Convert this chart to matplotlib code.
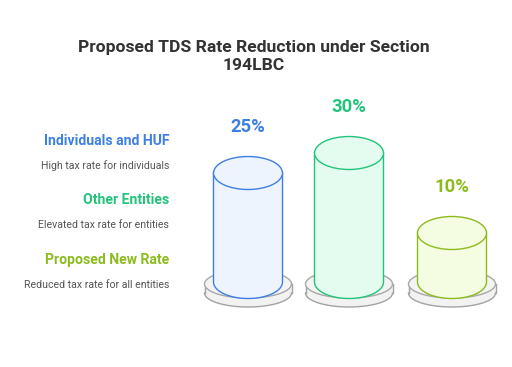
import matplotlib.pyplot as plt
import numpy as np
from matplotlib.patches import Ellipse, Polygon

plt.rcParams['font.family'] = ['Roboto', 'DejaVu Sans']

title = "Proposed TDS Rate Reduction under Section\n194LBC"
categories = ["Individuals and HUF", "Other Entities", "Proposed New Rate"]
descriptions = ["High tax rate for individuals", "Elevated tax rate for entities",
                "Reduced tax rate for all entities"]
rates = [25, 30, 10]
rate_labels = ["25%", "30%", "10%"]

line_colors = ["#3d7fe3", "#22c47a", "#8dbb1e"]
fill_colors = ["#eef4fe", "#e3fcef", "#f4fde1"]

fig = plt.figure(figsize=(5.12, 3.67), dpi=100)
ax = fig.add_axes([0, 0, 1, 1])
ax.set_xlim(0, 512)
ax.set_ylim(367, 0)
ax.axis("off")

# layout in pixel units
x_centers = [248, 349, 452]
base_y = 282          # centre of cylinder bottom ellipse
rx, ry = 34.5, 16.5   # cylinder ellipse radii
px_per_pct, min_h = 4.0, 9.0
disc_rx, disc_ry, disc_y, disc_t = 43.5, 14, 284, 9


def half_arc(cx, cy, a, b, n=60):
    t = np.linspace(np.pi, 0, n)
    return np.column_stack([cx + a * np.cos(t), cy + b * np.sin(t)])


for i, (cx, v) in enumerate(zip(x_centers, rates)):
    # gray base disc (two layers)
    lower = half_arc(cx, disc_y + disc_t, disc_rx, disc_ry)
    body = np.vstack([[[cx - disc_rx, disc_y]], lower, [[cx + disc_rx, disc_y]]])
    ax.add_patch(Polygon(body, closed=True, fc="#f2f2f2", ec="none", zorder=1))
    ax.plot(lower[:, 0], lower[:, 1], color="#a3a3a3", lw=1.0, zorder=2)
    for sx in (cx - disc_rx, cx + disc_rx):
        ax.plot([sx, sx], [disc_y, disc_y + disc_t], color="#a3a3a3", lw=1.0, zorder=2)
    ax.add_patch(Ellipse((cx, disc_y), 2 * disc_rx, 2 * disc_ry, fc="#f4f4f4",
                         ec="#a8a8a8", lw=1.0, zorder=2))

    # cylinder
    top_y = base_y - (min_h + px_per_pct * v)
    bottom = half_arc(cx, base_y, rx, ry)
    body = np.vstack([[[cx - rx, top_y]], bottom, [[cx + rx, top_y]]])
    ax.add_patch(Polygon(body, closed=True, fc=fill_colors[i], ec="none", zorder=3))
    ax.plot(np.r_[cx - rx, bottom[:, 0], cx + rx], np.r_[top_y, bottom[:, 1], top_y],
            color=line_colors[i], lw=1.0, zorder=4)
    ax.add_patch(Ellipse((cx, top_y), 2 * rx, 2 * ry, fc=fill_colors[i],
                         ec=line_colors[i], lw=1.0, zorder=5))
    ax.text(cx, top_y - ry - 30, rate_labels[i], color=line_colors[i], fontsize=13.2,
            fontweight="bold", ha="center", va="center")

# left legend-like labels
for i, (cat, desc) in enumerate(zip(categories, descriptions)):
    y0 = 141 + i * 59.5
    ax.text(169, y0, cat, color=line_colors[i], fontsize=10.1, fontweight="bold",
            ha="right", va="center")
    ax.text(169, y0 + 25, desc, color="#555555", fontsize=7.6, ha="right", va="center")

ax.text(254, 56.5, title, color="#333333", fontsize=12.6, fontweight="bold",
        ha="center", va="center", linespacing=1.2)

fig.savefig("out.png", dpi=100)
